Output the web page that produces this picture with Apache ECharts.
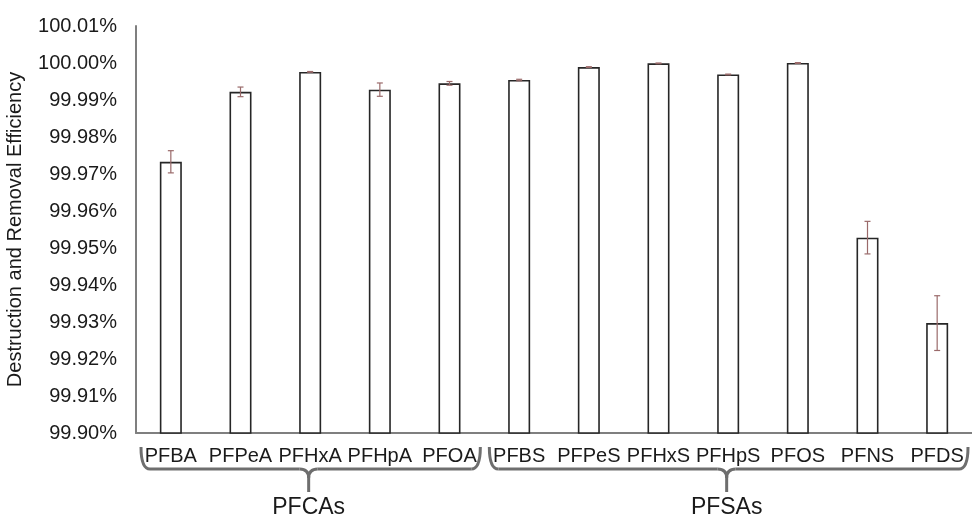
<!DOCTYPE html>
<html>
<head>
<meta charset="utf-8">
<script src="https://cdn.jsdelivr.net/npm/echarts@6/dist/echarts.min.js"></script>
<style>html,body{margin:0;padding:0;background:#fff}#c{width:972px;height:520px}</style>
</head>
<body>
<div id="c"></div>
<script>
var categories = ['PFBA','PFPeA','PFHxA','PFHpA','PFOA','PFBS','PFPeS','PFHxS','PFHpS','PFOS','PFNS','PFDS'];
var efficiency = [99.9733, 99.9922, 99.9976, 99.9928, 99.9945, 99.9954, 99.9989, 99.9999, 99.9969, 100.0000, 99.9528, 99.9297];
var errors = [0.0030, 0.0013, 0.0001, 0.0018, 0.0005, 0.0002, 0.0001, 0.0001, 0.0001, 0.0001, 0.0044, 0.0074];
var groupNames = ['PFCAs', 'PFSAs'];
var groupStart = [0, 5];
var groupEnd = [4, 11];
var yMin = 99.90, yMax = 100.01, yStep = 0.01;

var FONT = 'Liberation Sans, Arial, Helvetica, sans-serif';
var errData = categories.map(function (c, i) {
  return [i, efficiency[i] - errors[i], efficiency[i] + errors[i]];
});

var chart = echarts.init(document.getElementById('c'), null, {renderer: 'canvas'});
chart.setOption({
  animation: false,
  backgroundColor: '#fff',
  grid: {left: 136, right: 0, top: 26, bottom: 87, containLabel: false, outerBoundsMode: 'none'},
  xAxis: {
    type: 'category',
    data: categories,
    axisLine: {lineStyle: {color: '#7f7f7f', width: 2}},
    axisTick: {show: false},
    axisLabel: {interval: 0, color: '#1a1a1a', fontFamily: FONT, fontSize: 20, margin: 13}
  },
  yAxis: {
    type: 'value',
    min: yMin, max: yMax, interval: yStep,
    name: 'Destruction and Removal Efficiency',
    nameLocation: 'middle',
    nameRotate: 90,
    nameGap: 111,
    nameTextStyle: {color: '#1a1a1a', fontFamily: FONT, fontSize: 20},
    axisLine: {show: true, lineStyle: {color: '#7f7f7f', width: 2}},
    axisTick: {show: false},
    splitLine: {show: false},
    axisLabel: {
      color: '#1a1a1a', fontFamily: FONT, fontSize: 20, margin: 19,
      formatter: function (v) { return v.toFixed(2) + '%'; }
    }
  },
  series: [{
    type: 'bar',
    data: efficiency,
    barWidth: 22,
    itemStyle: {color: '#ffffff', borderColor: '#262626', borderWidth: 1.6}
  }, {
    type: 'custom',
    data: errData,
    z: 10,
    renderItem: function (params, api) {
      var x = api.coord([api.value(0), api.value(1)])[0];
      var lo = api.coord([api.value(0), api.value(1)])[1];
      var hi = api.coord([api.value(0), api.value(2)])[1];
      var w = 3;
      var st = {stroke: '#9a6a6a', lineWidth: 1.2, fill: null};
      return {
        type: 'group',
        children: [
          {type: 'line', shape: {x1: x, y1: lo, x2: x, y2: hi}, style: st},
          {type: 'line', shape: {x1: x - w, y1: lo, x2: x + w, y2: lo}, style: st},
          {type: 'line', shape: {x1: x - w, y1: hi, x2: x + w, y2: hi}, style: st}
        ]
      };
    }
  }]
});

// Group braces computed from axis positions
var c0 = chart.convertToPixel({xAxisIndex: 0}, 0);
var c1 = chart.convertToPixel({xAxisIndex: 0}, 1);
var band = c1 - c0;
var yTop = 447, yLine = 469, yTip = 492, r = 9;
var graphics = [];
var bst = {stroke: '#6e6e6e', lineWidth: 3, fill: null};
function seg(x1, y1, x2, y2) {
  graphics.push({type: 'line', silent: true, shape: {x1: x1, y1: y1, x2: x2, y2: y2}, style: bst});
}
function curve(x1, y1, cx, cy, x2, y2) {
  graphics.push({type: 'bezierCurve', silent: true, shape: {x1: x1, y1: y1, x2: x2, y2: y2, cpx1: cx, cpy1: cy}, style: bst});
}
groupNames.forEach(function (name, g) {
  var L = chart.convertToPixel({xAxisIndex: 0}, groupStart[g]) - band / 2 + 5;
  var R = chart.convertToPixel({xAxisIndex: 0}, groupEnd[g]) + band / 2 - 4;
  if (R > 969) R = 969;
  var M = (L + R) / 2 - 2;
  curve(L, yTop, L, yLine, L + r, yLine);
  seg(L + r, yLine, M - r, yLine);
  curve(M - r, yLine, M, yLine, M, yLine + r);
  seg(M, yLine + r, M, yTip);
  curve(M + r, yLine, M, yLine, M, yLine + r);
  seg(M + r, yLine, R - r, yLine);
  curve(R - r, yLine, R, yLine, R, yTop);
  graphics.push({
    type: 'text', silent: true,
    x: M, y: 508,
    style: {text: name, fontFamily: FONT, fontSize: 23, fill: '#1a1a1a', align: 'center', verticalAlign: 'middle'}
  });
});
chart.setOption({graphic: {elements: graphics}});
</script>
</body>
</html>
